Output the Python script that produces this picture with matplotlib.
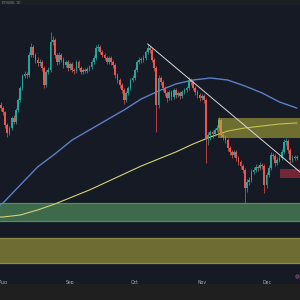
import matplotlib
matplotlib.use("Agg")
import matplotlib.pyplot as plt
import matplotlib.dates as mdates
from matplotlib.patches import Rectangle
import numpy as np
import pandas as pd

# ---------------- data ----------------
start_date = "2022-07-31"
first_open = 195
closes = [192, 188, 175, 167, 172, 182, 178, 190, 200, 212, 224, 226, 225, 245, 253, 245, 240, 237, 238, 232,
          215, 228, 230, 258, 260, 245, 238, 245, 240, 235, 238, 232, 236, 230, 229, 238, 232, 228, 230, 229,
          231, 233, 238, 242, 252, 253, 248, 245, 242, 238, 242, 238, 235, 225, 220, 215, 210, 200, 207, 212,
          220, 222, 230, 238, 240, 240, 242, 248, 252, 250, 240, 232, 195, 222, 218, 212, 207, 202, 208, 203,
          210, 205, 207, 204, 208, 210, 212, 220, 218, 212, 208, 205, 202, 204, 200, 162, 165, 168, 166, 170,
          172, 180, 165, 163, 160, 152, 148, 145, 148, 142, 138, 134, 130, 112, 118, 120, 128, 130, 133, 132,
          135, 134, 115, 125, 132, 145, 144, 137, 140, 142, 148, 158, 159, 150, 140, 142, 143, 142]
highs = [198, 194, 189, 177, 174, 184, 185, 192, 202, 214, 226, 229, 228, 248, 257, 255, 247, 243, 241, 240,
         234, 230, 233, 268, 264, 262, 247, 248, 247, 243, 240, 240, 238, 238, 232, 240, 240, 234, 232, 232,
         233, 235, 240, 245, 255, 256, 255, 250, 247, 244, 244, 244, 240, 237, 227, 222, 217, 212, 209, 214,
         222, 225, 232, 240, 243, 243, 245, 250, 256, 254, 252, 242, 234, 225, 224, 220, 214, 209, 210, 210,
         212, 212, 209, 209, 210, 212, 214, 223, 222, 220, 214, 210, 207, 206, 206, 202, 168, 170, 170, 172,
         175, 183, 182, 167, 165, 162, 154, 150, 150, 150, 144, 140, 136, 132, 121, 123, 131, 133, 136, 135,
         138, 137, 136, 128, 135, 148, 147, 146, 143, 145, 151, 161, 162, 161, 152, 145, 145, 145]
lows = [189, 185, 172, 163, 165, 170, 176, 176, 188, 198, 210, 222, 222, 223, 243, 243, 237, 234, 234, 229,
        212, 213, 226, 228, 255, 242, 235, 236, 238, 232, 233, 229, 230, 228, 226, 227, 230, 226, 226, 227,
        227, 229, 231, 236, 240, 249, 246, 243, 240, 236, 236, 235, 232, 222, 217, 212, 207, 196, 198, 205,
        210, 218, 220, 228, 236, 237, 238, 240, 246, 247, 238, 229, 168, 192, 215, 209, 204, 198, 200, 200,
        201, 202, 203, 201, 202, 206, 208, 210, 215, 210, 205, 202, 199, 200, 197, 137, 155, 160, 162, 164,
        168, 170, 163, 160, 157, 149, 145, 142, 143, 139, 135, 131, 127, 97, 108, 115, 118, 126, 128, 129,
        130, 131, 107, 112, 123, 130, 141, 134, 135, 138, 140, 146, 155, 147, 137, 138, 140, 140]

ma_days = [-2, 0, 8, 16, 24, 32, 40, 48, 56, 64, 72, 80, 88, 96, 104, 112, 120, 128, 136]
ma_blue = [94, 97, 115, 133, 146, 160, 170, 180, 190, 201, 209, 216, 220, 222, 220, 214, 207, 198, 192]
ma_yellow = [83, 83, 85, 90, 96, 103, 110, 118, 126, 134, 141, 148, 156, 163, 169, 172, 174, 176, 177]

trend_days = [67, 137.5]
trend_prices = [256, 128]

# zones: (start day offset or None for full width, low price, high price)
zone_upper = (99.5, 162, 182)
zone_red = (128.2, 122, 131)
zone_green = (None, 79, 97)
zone_lower = (None, 37, 62)

month_labels = ["Aug", "Sep", "Oct", "Nov", "Dec"]
month_starts = ["2022-08-01", "2022-09-01", "2022-10-01", "2022-11-01", "2022-12-01"]

# ---------------- figure ----------------
BG = "#161a25"
UP = "#26a69a"
DOWN = "#ef5350"

fig = plt.figure(figsize=(3, 3), dpi=100)
fig.patch.set_facecolor(BG)
ax = fig.add_axes([0, 0, 1, 1])
ax.set_facecolor(BG)

base = pd.Timestamp("2022-08-01")
dates = pd.date_range(start_date, periods=len(closes), freq="D")
x = mdates.date2num(dates)
x0 = mdates.date2num(base)

opens = [first_open] + closes[:-1]
xl = x0 - 1.39
xr = x0 + 137.5

# zones
def draw_zone(z, face, edge, alpha, lw=0.8, z_order=1):
    start, lo, hi = z
    left = xl if start is None else x0 + start
    ax.add_patch(Rectangle((left, lo), xr - left, hi - lo, facecolor=face, alpha=alpha,
                           edgecolor="none", zorder=z_order))
    if edge is not None:
        ax.plot([left, xr], [lo, lo], color=edge, lw=lw, zorder=z_order + 0.1)
        ax.plot([left, xr], [hi, hi], color=edge, lw=lw, zorder=z_order + 0.1)

draw_zone(zone_green, "#3d6a4a", "#5a8a5c", 1.0, lw=0.9)
draw_zone(zone_lower, "#6e6c32", "#8d8c44", 1.0, lw=0.9)

# moving averages
ax.plot(x0 + np.array(ma_days), ma_blue, color="#5a7fc4", lw=1.0, zorder=2)
ax.plot(x0 + np.array(ma_days), ma_yellow, color="#d6d07a", lw=0.8, zorder=2)

# candles
o = np.array(opens, float)
c = np.array(closes, float)
h = np.array(highs, float)
l = np.array(lows, float)
up = c >= o
cols = np.where(up, UP, DOWN)
ax.vlines(x, l, h, colors=cols, lw=0.5, zorder=3)
body = np.abs(c - o)
body = np.where(body < 0.8, 0.8, body)
ax.bar(x, body, bottom=np.minimum(o, c), width=0.82, color=cols, linewidth=0, zorder=4)

# upper zones drawn over candles (semi-transparent)
draw_zone(zone_upper, "#b8b43a", None, 0.55, z_order=5)
draw_zone(zone_red, "#8a2a3c", None, 0.8, z_order=5)

# trendline
ax.plot(x0 + np.array(trend_days), trend_prices, color="#d8d8d8", lw=0.7, zorder=6)

# month labels
for lab, ms in zip(month_labels, month_starts):
    ax.text(mdates.date2num(pd.Timestamp(ms)), 17.5, lab, color="#a8acb6", fontsize=3.3,
            ha="center", va="center", zorder=7)

ax.set_xlim(xl, xr)
ax.set_ylim(0, 300)
ax.axis("off")

# bottom and top strips
fig.add_artist(Rectangle((0, 0), 1, 16 / 300, transform=fig.transFigure,
                         facecolor="#1f1f1f", edgecolor="none", zorder=10))
fig.add_artist(Rectangle((0, 1 - 5 / 300), 1, 5 / 300, transform=fig.transFigure,
                         facecolor="#1d2023", edgecolor="none", zorder=10))
fig.text(0.005, 1 - 2.5 / 300, "ETHUSD, 1D", color="#8a8e96", fontsize=2.2,
         ha="left", va="center", zorder=11)

# logo mark
ax.scatter([x0 + 136.2], [24], s=6, facecolor="#4a2a4a", edgecolor="#9a4a8a", lw=0.5, zorder=7)

fig.savefig("out.png", dpi=100, facecolor=fig.get_facecolor())
